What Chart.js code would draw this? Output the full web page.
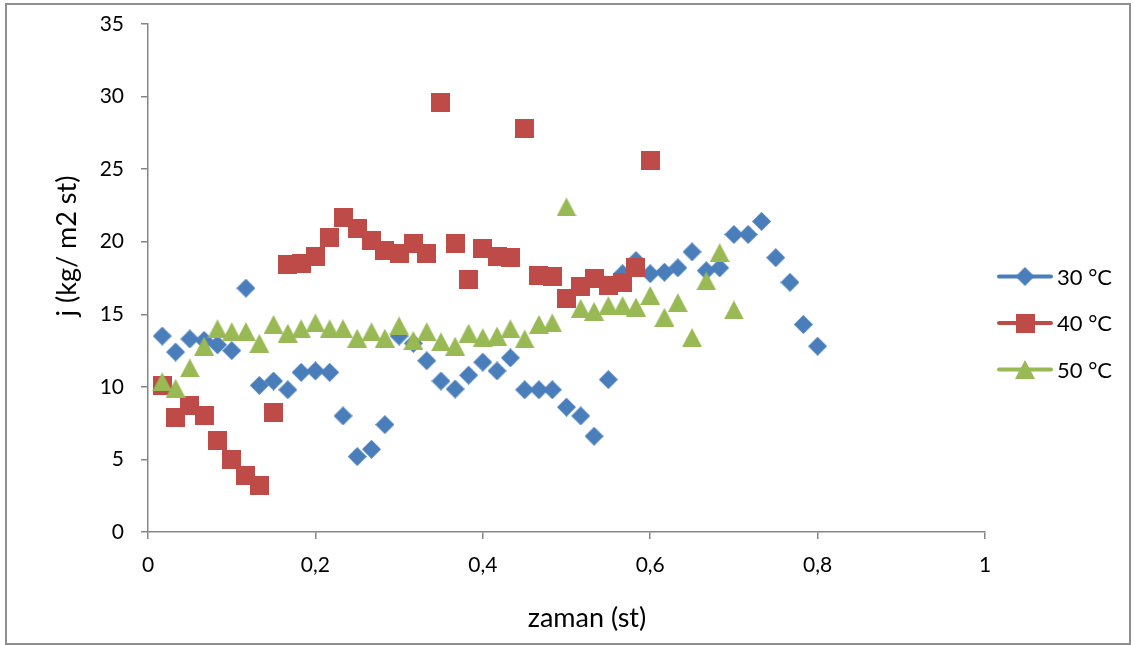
<!DOCTYPE html>
<html>
<head>
<meta charset="utf-8">
<title>j / zaman</title>
<script src="https://cdn.jsdelivr.net/npm/chart.js@4.4.1/dist/chart.umd.min.js"></script>
<style>
  html, body { margin: 0; padding: 0; background: #fff; }
  #wrap { position: relative; width: 1134px; height: 645px; }
  #wrap canvas { position: absolute; left: 0; top: 0; }
  #frame {
    position: absolute; left: 5px; top: 3px; width: 1126px; height: 642px;
    border: 2px solid #8f8f8f; box-sizing: border-box; pointer-events: none;
  }
</style>
</head>
<body>
<div id="wrap">
  <canvas id="fluxChart" width="1134" height="645"></canvas>
  <div id="frame"></div>
</div>
<script>
// zaman (st): one reading per minute
const zaman = [
  0.017, 0.033, 0.050, 0.067, 0.083, 0.100, 0.117, 0.133, 0.150, 0.167,
  0.183, 0.200, 0.217, 0.233, 0.250, 0.267, 0.283, 0.300, 0.317, 0.333,
  0.350, 0.367, 0.383, 0.400, 0.417, 0.433, 0.450, 0.467, 0.483, 0.500,
  0.517, 0.533, 0.550, 0.567, 0.583, 0.600, 0.617, 0.633, 0.650, 0.667,
  0.683, 0.700, 0.717, 0.733, 0.750, 0.767, 0.783, 0.800
];

// j (kg/ m2 st)
const j30 = [
  13.5, 12.4, 13.3, 13.2, 12.9, 12.5, 16.8, 10.1, 10.4, 9.8,
  11.0, 11.1, 11.0, 8.0, 5.2, 5.7, 7.4, 13.5, 13.0, 11.8,
  10.4, 9.85, 10.8, 11.7, 11.1, 12.0, 9.8, 9.8, 9.8, 8.6,
  8.0, 6.6, 10.5, 17.8, 18.7, 17.8, 17.9, 18.2, 19.3, 18.0,
  18.2, 20.5, 20.5, 21.4, 18.9, 17.2, 14.3, 12.8
];
const j40 = [
  10.1, 7.9, 8.7, 8.0, 6.3, 5.0, 3.9, 3.2, 8.2, 18.4,
  18.5, 19.0, 20.3, 21.7, 20.9, 20.1, 19.4, 19.2, 19.9, 19.2,
  29.6, 19.9, 17.4, 19.5, 19.0, 18.9, 27.8, 17.7, 17.6, 16.1,
  16.9, 17.5, 17.0, 17.2, 18.2, 25.6
];
const j50 = [
  10.35, 9.9, 11.3, 12.8, 14.0, 13.8, 13.8, 13.0, 14.3, 13.7,
  14.0, 14.4, 14.0, 14.0, 13.35, 13.8, 13.35, 14.2, 13.2, 13.8,
  13.1, 12.8, 13.7, 13.4, 13.5, 14.0, 13.3, 14.3, 14.4, 22.4,
  15.4, 15.2, 15.6, 15.6, 15.5, 16.3, 14.8, 15.8, 13.4, 17.3,
  19.25, 15.3
];

const seriesNames = ['30 °C', '40 °C', '50 °C'];
const seriesColors = ['#4a7ebb', '#be4b48', '#98b954'];
const xTitle = 'zaman (st)';
const yTitle = 'j (kg/ m2 st)';

const FONT = 'Lato, "Open Sans", sans-serif';
const AXIS_GRAY = '#868686';

// marker bitmaps, so the shapes fill their box the way office charts do
function makeMarker(shape, color, w, h) {
  const cv = document.createElement('canvas');
  cv.width = w; cv.height = h;
  const g = cv.getContext('2d');
  g.fillStyle = color;
  g.beginPath();
  if (shape === 'diamond') {
    g.moveTo(w / 2, 0); g.lineTo(w, h / 2); g.lineTo(w / 2, h); g.lineTo(0, h / 2);
  } else if (shape === 'triangle') {
    g.moveTo(w / 2, 0); g.lineTo(w, h); g.lineTo(0, h);
  } else {
    g.rect(0, 0, w, h);
  }
  g.closePath();
  g.fill();
  return cv;
}

const markers = [
  makeMarker('diamond', seriesColors[0], 19, 19),
  makeMarker('square', seriesColors[1], 19, 19),
  makeMarker('triangle', seriesColors[2], 20, 19)
];

function toPoints(ys) {
  return ys.map((y, i) => ({ x: zaman[i], y }));
}

// axis titles sit where the office layout puts them, not centred on the scales
const axisTitles = {
  id: 'axisTitles',
  afterDraw(chart) {
    const c = chart.ctx;
    c.save();
    c.fillStyle = '#000';
    c.font = '27px ' + FONT;
    c.textBaseline = 'middle';
    c.textAlign = 'center';
    c.fillText(xTitle, 587, 618);
    c.translate(67, 246);
    c.rotate(-Math.PI / 2);
    c.fillText(yTitle, 0, 0);
    c.restore();
  }
};

// legend on the right: short line with the marker in its middle
const sideLegend = {
  id: 'sideLegend',
  afterDraw(chart) {
    const c = chart.ctx;
    c.save();
    chart.data.datasets.forEach((ds, i) => {
      const y = 276.5 + i * 46.5;
      c.strokeStyle = seriesColors[i];
      c.lineWidth = 4;
      c.lineCap = 'round';
      c.beginPath();
      c.moveTo(999, y);
      c.lineTo(1051, y);
      c.stroke();
      const m = markers[i];
      c.drawImage(m, 1025 - m.width / 2, y - m.height / 2);
      c.fillStyle = '#000';
      c.font = '22px ' + FONT;
      c.textBaseline = 'middle';
      c.textAlign = 'left';
      c.fillText(ds.label, 1057, y + 1);
    });
    c.restore();
  }
};

const datasets = [j30, j40, j50].map((ys, i) => ({
  label: seriesNames[i],
  data: toPoints(ys),
  pointStyle: markers[i],
  backgroundColor: seriesColors[i],
  borderColor: seriesColors[i],
  showLine: false,
  order: 3 - i
}));

new Chart(document.getElementById('fluxChart'), {
  type: 'scatter',
  data: { datasets },
  plugins: [axisTitles, sideLegend],
  options: {
    responsive: false,
    animation: false,
    layout: { padding: { top: 24, right: 149, left: 0, bottom: 0 } },
    plugins: {
      legend: { display: false },
      tooltip: { enabled: false }
    },
    scales: {
      x: {
        type: 'linear',
        min: 0,
        max: 1,
        ticks: {
          stepSize: 0.2,
          color: '#000',
          padding: 14,
          font: { family: FONT, size: 21 },
          callback: v => String(+v.toFixed(1)).replace('.', ',')
        },
        grid: { drawOnChartArea: false, drawTicks: true, tickLength: 7, color: AXIS_GRAY, lineWidth: 1.5 },
        border: { color: AXIS_GRAY, width: 1.5 },
        afterFit: s => { s.height = 113; }
      },
      y: {
        min: 0,
        max: 35,
        ticks: {
          stepSize: 5,
          color: '#000',
          padding: 17,
          font: { family: FONT, size: 21 }
        },
        grid: { drawOnChartArea: false, drawTicks: true, tickLength: 7, color: AXIS_GRAY, lineWidth: 1.5 },
        border: { color: AXIS_GRAY, width: 1.5 },
        // the big label gap would otherwise push the plot top down
        afterFit: s => { s.width = 148; s.paddingTop = 12; s.paddingBottom = 12; }
      }
    }
  }
});
</script>
</body>
</html>
